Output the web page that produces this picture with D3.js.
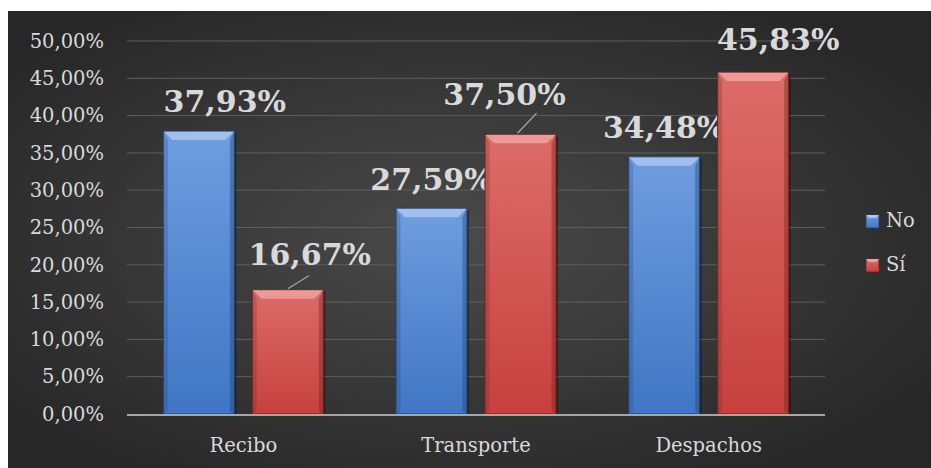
<!DOCTYPE html>
<html lang='es'>
<head>
<meta charset='UTF-8'>
<title>Recibo / Transporte / Despachos</title>
<style>
  html, body { margin: 0; padding: 0; background: #ffffff; }
  svg { display: block; }
  text { font-family: 'DejaVu Serif', 'Liberation Serif', serif; }
</style>
</head>
<body>
<svg id='chart' width='931' height='468'></svg>
<script src='https://cdn.jsdelivr.net/npm/d3@7/dist/d3.min.js'></script>
<script>
// data
const categories = ['Recibo', 'Transporte', 'Despachos'];
const seriesNames = ['No', 'Sí'];
const valuesNo = [0.3793, 0.2759, 0.3448];
const valuesSi = [0.1667, 0.3750, 0.4583];
const yTicks = [0, 0.05, 0.10, 0.15, 0.20, 0.25, 0.30, 0.35, 0.40, 0.45, 0.50];

// label nudges (layout only), in px relative to bar top centre
const labelShiftNo = [[26, -19], [0, -18], [0, -19]];
const labelShiftSi = [[22, -25], [-16, -29], [25, -22]];

const width = 931, height = 468;
const plotLeft = 127, plotRight = 825, plotTop = 41, plotBottom = 414;
const topStops = { 'No': '#6f9de0', 'Sí': '#dc6c68' };
const bottomStops = { 'No': '#4076c4', 'Sí': '#c6413e' };
const bevelColors = { 'No': '#a9c7f2', 'Sí': '#f0a19d' };
const edgeColors = { 'No': '#24406e', 'Sí': '#6e2321' };

const svg = d3.select('#chart');
const defs = svg.append('defs');

const bg = defs.append('radialGradient').attr('id', 'bg')
  .attr('cx', '48%').attr('cy', '50%').attr('r', '62%');
bg.append('stop').attr('offset', '0%').attr('stop-color', '#4a4a4a');
bg.append('stop').attr('offset', '100%').attr('stop-color', '#272727');

seriesNames.forEach((s, i) => {
  const g = defs.append('linearGradient').attr('id', 'fill' + i)
    .attr('x1', 0).attr('y1', 0).attr('x2', 0).attr('y2', 1);
  g.append('stop').attr('offset', '0%').attr('stop-color', topStops[s]);
  g.append('stop').attr('offset', '100%').attr('stop-color', bottomStops[s]);
});

svg.append('rect')
  .attr('x', 8).attr('y', 11)
  .attr('width', width - 8).attr('height', height - 11)
  .attr('fill', 'url(#bg)');

const y = d3.scaleLinear().domain([0, 0.5]).range([plotBottom, plotTop]);
const x0 = d3.scaleBand().domain(categories).range([plotLeft, plotRight]);
const x1 = d3.scaleBand().domain(seriesNames)
  .range([0, x0.bandwidth()])
  .paddingInner(0.202).paddingOuter(0.408);

const fmt = v => d3.format('.2f')(v * 100).replace('.', ',') + '%';

// gridlines
svg.append('g').selectAll('line')
  .data(yTicks.filter(t => t > 0))
  .join('line')
  .attr('x1', plotLeft).attr('x2', plotRight)
  .attr('y1', d => y(d)).attr('y2', d => y(d))
  .attr('stroke', '#5e5e5e').attr('stroke-width', 1);

// y axis labels
const yAxis = d3.axisLeft(y).tickValues(yTicks).tickFormat(fmt).tickSize(0).tickPadding(23);
const yg = svg.append('g').attr('transform', `translate(${plotLeft},0)`).call(yAxis);
yg.select('.domain').remove();
yg.selectAll('text')
  .attr('fill', '#d9d9d9').attr('font-size', 19.5)
  .attr('font-family', "'DejaVu Serif', serif");

const rows = categories.map((c, i) => ({ cat: c, i, vals: [valuesNo[i], valuesSi[i]] }));

const bev = 9;
rows.forEach(row => {
  row.vals.forEach((v, si) => {
    const s = seriesNames[si];
    const bx = x0(row.cat) + x1(s);
    const bw = x1.bandwidth();
    const by = y(v);
    const bh = plotBottom - by;
    const g = svg.append('g');
    // soft shadow
    g.append('rect').attr('x', bx + 2).attr('y', by + 2).attr('width', bw).attr('height', bh)
      .attr('fill', '#000').attr('opacity', 0.35);
    g.append('rect').attr('x', bx).attr('y', by).attr('width', bw).attr('height', bh)
      .attr('fill', `url(#fill${si})`);
    // top bevel
    g.append('path')
      .attr('d', `M${bx},${by}L${bx + bw},${by}L${bx + bw - bev},${by + bev}L${bx + bev},${by + bev}Z`)
      .attr('fill', bevelColors[s]).attr('opacity', 0.85);
    // side bevels
    g.append('path')
      .attr('d', `M${bx},${by}L${bx + bev / 2},${by + bev}L${bx + bev / 2},${plotBottom - 3}L${bx},${plotBottom}Z`)
      .attr('fill', edgeColors[s]).attr('opacity', 0.25);
    g.append('path')
      .attr('d', `M${bx + bw},${by}L${bx + bw - bev / 2},${by + bev}L${bx + bw - bev / 2},${plotBottom - 3}L${bx + bw},${plotBottom}Z`)
      .attr('fill', edgeColors[s]).attr('opacity', 0.4);
    g.append('rect').attr('x', bx).attr('y', by).attr('width', bw).attr('height', bh)
      .attr('fill', 'none').attr('stroke', edgeColors[s]).attr('stroke-width', 1);

    // value label
    const shift = (si === 0 ? labelShiftNo : labelShiftSi)[row.i];
    const lx = bx + bw / 2 + shift[0];
    const ly = by + shift[1];
    svg.append('text')
      .attr('x', lx).attr('y', ly)
      .attr('text-anchor', 'middle')
      .attr('font-size', 30).attr('font-weight', 'bold')
      .attr('fill', '#d9d9d9')
      .text(fmt(v));
    // leader line when the label sits far from the bar
    if (si === 1 && row.i < 2) {
      svg.append('line')
        .attr('x1', bx + bw / 2 + (row.i === 0 ? 0 : -3)).attr('y1', by - 1)
        .attr('x2', bx + bw / 2 + (row.i === 0 ? 21 : 16)).attr('y2', by - (row.i === 0 ? 14 : 21))
        .attr('stroke', '#a6a6a6').attr('stroke-width', 1.2);
    }
  });
});

// baseline
svg.append('line')
  .attr('x1', plotLeft).attr('x2', plotRight).attr('y1', plotBottom + 1).attr('y2', plotBottom + 1)
  .attr('stroke', '#a6a6a6').attr('stroke-width', 2);

// x axis labels
const xAxis = d3.axisBottom(x0).tickSize(0).tickPadding(24);
const xg = svg.append('g').attr('transform', `translate(0,${plotBottom})`).call(xAxis);
xg.select('.domain').remove();
xg.selectAll('text')
  .attr('fill', '#d9d9d9').attr('font-size', 19.5)
  .attr('font-family', "'DejaVu Serif', serif");

// legend
const legend = svg.append('g').attr('transform', 'translate(866,215)');
seriesNames.forEach((s, i) => {
  const lg = legend.append('g').attr('transform', `translate(0,${i * 44})`);
  lg.append('rect').attr('width', 13).attr('height', 13).attr('fill', `url(#fill${i})`)
    .attr('stroke', edgeColors[s]).attr('stroke-width', 0.8);
  lg.append('path').attr('d', 'M0,0L13,0L10,3L3,3Z').attr('fill', bevelColors[s]);
  lg.append('text').attr('x', 20).attr('y', 12)
    .attr('font-size', 19.5).attr('fill', '#d9d9d9').text(s);
});
</script>
</body>
</html>
